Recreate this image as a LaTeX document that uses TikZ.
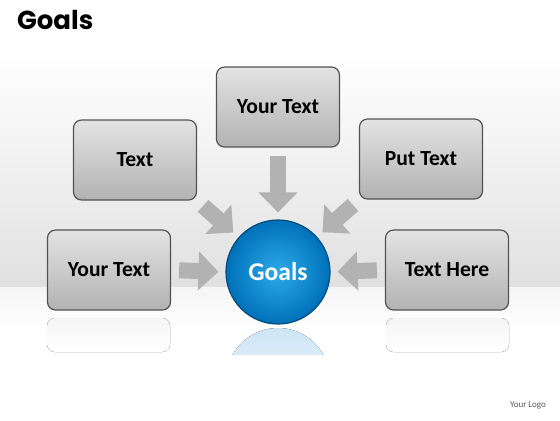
\documentclass[tikz,border=0pt]{standalone}
\usepackage{fontspec}
\setmainfont{Carlito}
\newfontfamily\titlefont{Poppins}
\usetikzlibrary{arrows.meta,positioning,shadings}
\definecolor{goalblue}{RGB}{0,125,205}
\definecolor{goallight}{RGB}{45,170,235}
\newcommand{\connectgoal}[2]{%
  \draw[goalarrow] (#1) -- (#2)}
\newcommand{\mirrorbox}[2]{%
  \fill[rounded corners=4pt, top color=gray!8, bottom color=white] (#1) rectangle (#2)}

\begin{document}
\begin{tikzpicture}[x=0.5pt, y=-0.5pt,
    textbox/.style={rectangle, rounded corners=4pt, draw=gray!65!black,
    line width=0.6pt, top color=gray!22, bottom color=gray!60,
    minimum width=61.5pt, minimum height=40pt,
    font=\bfseries\fontsize{10.8}{12}\selectfont},
    goalarrow/.style={line width=8pt, draw=gray!60,
    -{Triangle[width=19pt,length=10pt]}, shorten <=4pt, shorten >=3.5pt},
    >=stealth]
  \useasboundingbox (0,0) rectangle (560,420);
  % background band
  \fill[top color=white, bottom color=gray!24] (0,55) rectangle (560,287);
  \fill[top color=gray!8, bottom color=white] (0,287) rectangle (560,330);

  \node[font=\titlefont\bfseries\fontsize{13}{15}\selectfont,
    anchor=west] (title) at (10,20) {Goals};

  \node[circle, minimum size=52pt, draw=goalblue!60!black, line width=0.6pt,
    inner color=goallight, outer color=goalblue!90!black,
    text=white, font=\bfseries\fontsize{12.8}{14}\selectfont] (goals) at (278,272) {Goals};

  \node[textbox] (toptext) at (278,107) {Your Text};
  \node[textbox] (uptext) at (135,160) {Text};
  \node[textbox] (puttext) at (421,159) {Put Text};
  \node[textbox] (lefttext) at (109,270) {Your Text};
  \node[textbox] (righttext) at (447,270) {Text Here};

  \connectgoal{toptext}{goals};
  \connectgoal{uptext.south east}{goals};
  \connectgoal{puttext.south west}{goals};
  \connectgoal{lefttext.east}{goals.west};
  \connectgoal{righttext.west}{goals.east};

  % reflections
  \mirrorbox{47,318}{170,352};
  \mirrorbox{386,318}{509,352};
  \begin{scope}
    \clip (220,327) rectangle (340,354);
    \fill[top color=goalblue!20, bottom color=white] (278,380) circle (52);
  \end{scope}

  \node[font=\fontsize{4.5}{5}\selectfont, text=gray!70!black] (logo) at (528,405) {Your Logo};
\end{tikzpicture}
\end{document}
